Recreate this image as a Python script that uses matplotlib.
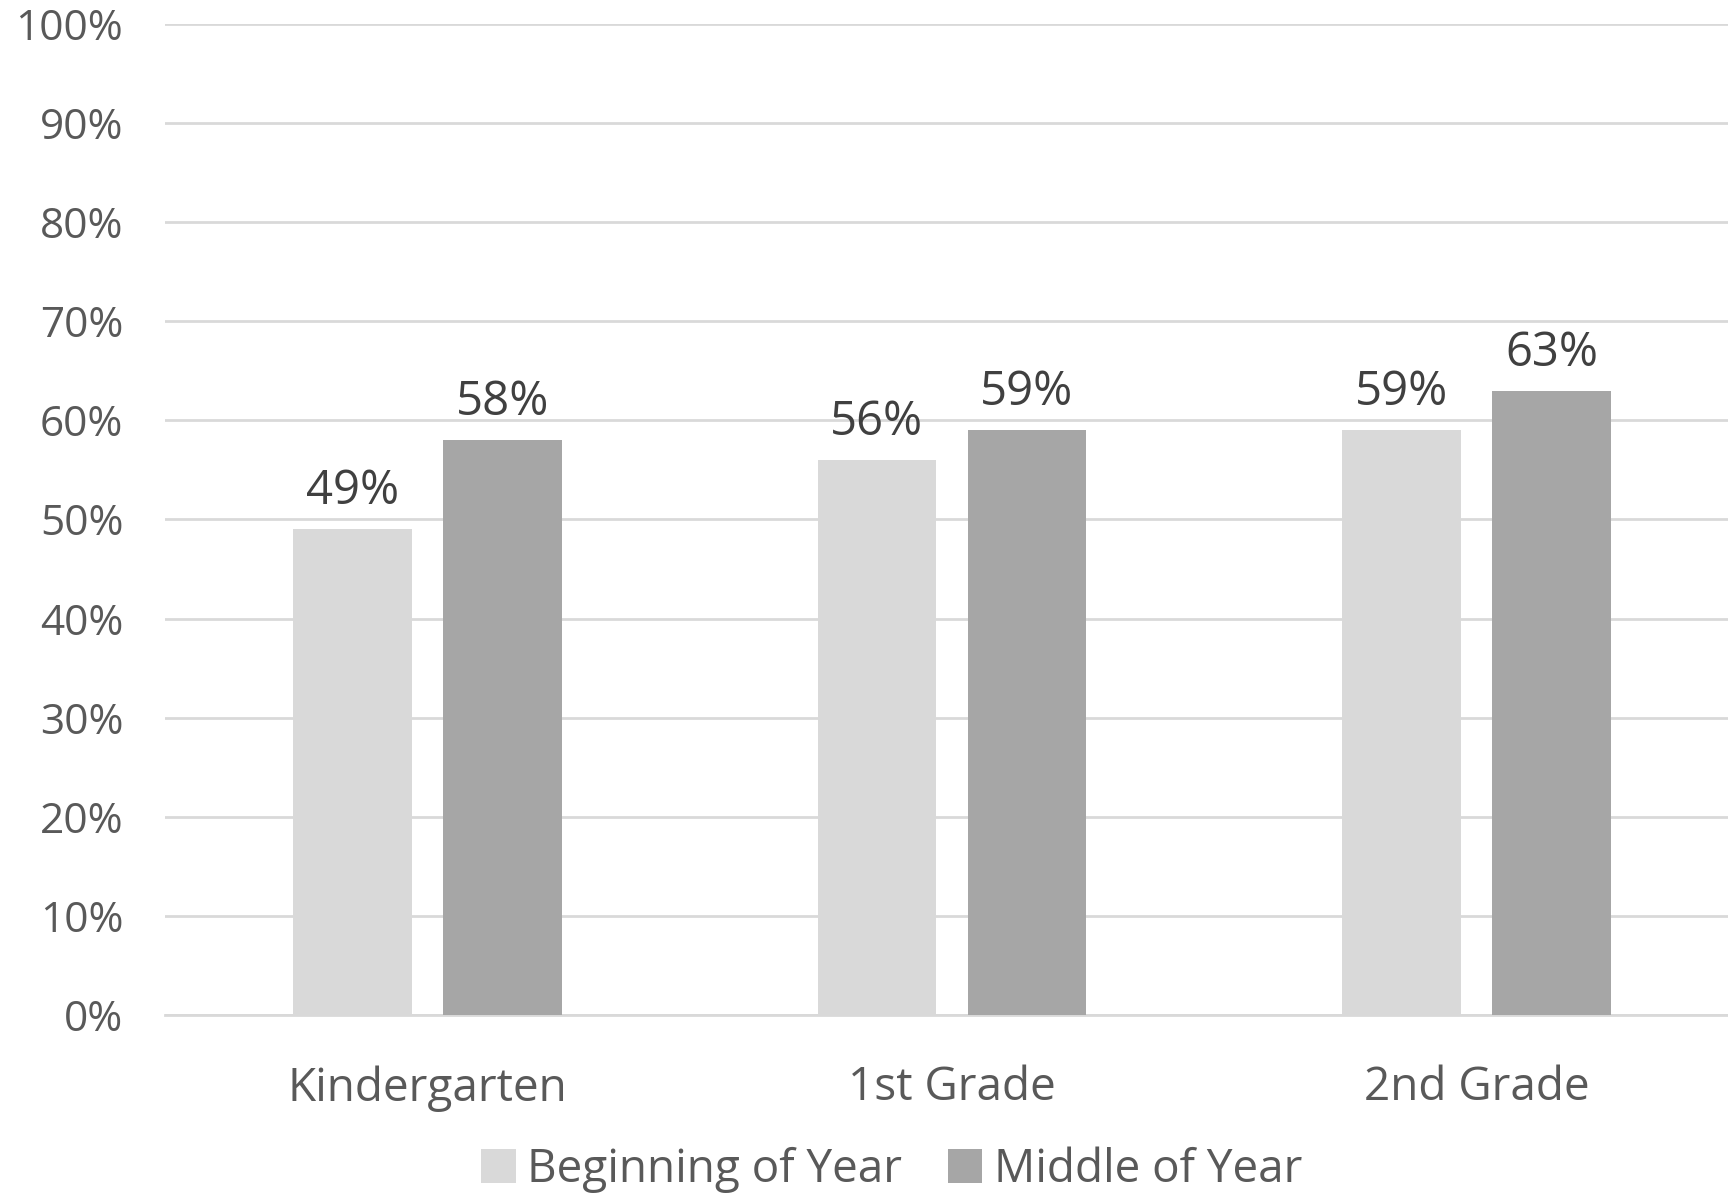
import matplotlib.pyplot as plt
import numpy as np

grades = ["Kindergarten", "1st Grade", "2nd Grade"]
series = ["Beginning of Year", "Middle of Year"]
beginning = [49, 56, 59]
middle = [58, 59, 63]
colors = ["#d9d9d9", "#a6a6a6"]

plt.rcParams['font.family'] = ['Open Sans', 'DejaVu Sans']

fig = plt.figure(figsize=(17.28, 11.96), dpi=100)
ax = fig.add_axes([0.0955, 0.1513, 0.9107, 0.8287])

x = np.arange(len(grades))
w = 0.226
off = 0.143
b1 = ax.bar(x - off, beginning, w, color=colors[0], label=series[0], zorder=3)
b2 = ax.bar(x + off, middle, w, color=colors[1], label=series[1], zorder=3)

for bars, vals in ((b1, beginning), (b2, middle)):
    for b, v in zip(bars, vals):
        ax.annotate(f"{v}%", (b.get_x() + b.get_width() / 2, v),
                    xytext=(0, 14), textcoords="offset pixels",
                    ha="center", va="bottom", fontsize=34, color="#404040")

ax.set_xlim(-0.5, 2.5)
ax.set_ylim(0, 100)
ax.set_yticks(range(0, 101, 10))
ax.set_yticklabels([f"{t}%" for t in range(0, 101, 10)])
ax.set_xticks(x)
ax.set_xticklabels(grades)
ax.tick_params(axis="y", length=0, pad=30, labelsize=30.5, labelcolor="#595959")
ax.tick_params(axis="x", length=0, pad=36, labelsize=33, labelcolor="#595959")
ax.grid(axis="y", color="#d9d9d9", linewidth=2, zorder=0)
for s in ["top", "right", "left"]:
    ax.spines[s].set_visible(False)
ax.spines["bottom"].set_color("#d9d9d9")
ax.spines["bottom"].set_linewidth(2)

fig.legend(loc="center", bbox_to_anchor=(0.516, 0.022), ncol=2, frameon=False,
           fontsize=33, labelcolor="#595959", handlelength=0.75, handleheight=0.75,
           handletextpad=0.25, columnspacing=1.0)

fig.savefig("out.png", dpi=100)
